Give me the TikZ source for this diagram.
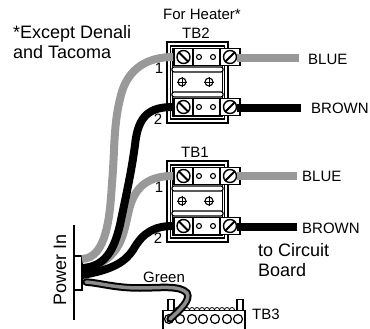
\documentclass[tikz,border=0pt]{standalone}
\usepackage{fontspec}
\setmainfont{Liberation Sans}
\tikzset{
	lbl/.style={inner sep=0pt, font=\fontsize{15}{17}\selectfont},
	biglbl/.style={inner sep=0pt, font=\fontsize{18}{20}\selectfont, align=left},
	frame/.style={draw, line width=1.2pt, inner sep=0pt},
	bar/.style={draw, line width=1.2pt, fill=white, rounded corners=2pt, minimum width=51pt, minimum height=5pt, inner sep=0pt},
	strip/.style={draw, line width=1.8pt, fill=white, minimum width=66pt, minimum height=17pt, inner sep=0pt},
	screw/.style={circle, draw, line width=1.4pt, fill=white, minimum size=13pt, inner sep=0pt},
	hole/.style={circle, draw, line width=1.1pt, fill=white, minimum size=5pt, inner sep=0pt},
	wire/.style={line width=8pt},
	graywire/.style={line width=8pt, draw=black!40},
}
\begin{document}
\begin{tikzpicture}[x=1pt,y=-1pt]
	\useasboundingbox (0,0) rectangle (370,329);

	% blocks
	\foreach \dy/\tb in {0/TB2,119/TB1} {
		\node[frame, minimum width=61pt, minimum height=81pt] (\tb) at (197.5,82.5+\dy) {};
		\node[frame, minimum width=54pt, minimum height=73pt] (\tb in) at (197.5,82.5+\dy) {};
		\node[frame, minimum width=50pt, minimum height=67pt] (\tb inn) at (197.5,82.5+\dy) {};
		\node[bar] (\tb a) at (197.5,69.5+\dy) {};
		\node[bar] (\tb b) at (197.5,94.5+\dy) {};
		\foreach \y/\s in {57/u,107/d} {
			\node[strip] (\tb\s) at (207,\y+\dy) {};
			\draw[line width=1.2pt] (193,\y+\dy-8) -- (193,\y+\dy+8) (220,\y+\dy-8) -- (220,\y+\dy+8);
			\node[screw] (\tb\s l) at (183.5,\y+\dy) {};
			\node[screw] (\tb\s r) at (230,\y+\dy) {};
			\draw[line width=1.8pt] (\tb\s l.north west) -- (\tb\s l.south east);
			\draw[line width=1.8pt] (\tb\s r.south west) -- (\tb\s r.north east);
			\node[hole] at (199,\y+\dy) {};
			\node[hole] at (213,\y+\dy) {};
		}
		\foreach \x in {182,209} {
			\node[circle, draw, line width=1.1pt, minimum size=8pt, inner sep=0pt] (\tb c\x) at (\x,82+\dy) {};
			\draw[line width=.8pt] (\tb c\x.west) -- (\tb c\x.east) (\tb c\x.north) -- (\tb c\x.south);
		}
	}

	% connector
	\coordinate (top) at (74,225);
	\coordinate (bot) at (74,320);
	\coordinate (gray1) at (82,259);
	\coordinate (gray2) at (85,270);
	\coordinate (blk1) at (82,268);
	\coordinate (blk2) at (82,275);
	\coordinate (grn) at (86,282);
	\coordinate (bluea) at (299,58);
	\coordinate (browna) at (301,108);
	\coordinate (blueb) at (297,176);
	\coordinate (brownb) at (297,227);
	\node[draw, line width=1.2pt, fill=white, minimum width=8pt, minimum height=34pt, inner sep=0pt] (plug) at (78,273) {};
	\draw[line width=1.4pt] (top) -- (bot);

	% wires
	\draw[graywire] (TB2ur.east |- bluea) -- (bluea);
	\draw[wire] (TB2dr.east |- browna) -- (browna);
	\draw[graywire] (TB1ur.east |- blueb) -- (blueb);
	\draw[wire] (TB1dr.east |- brownb) -- (brownb);
	\draw[graywire] (TB1u.west) .. controls (150,176) and (135,185) .. (129,210) .. controls (123,235) and (122,258) .. (gray2);
	\draw[graywire] (TB2u.west) .. controls (148,57) and (128,68) .. (121,95) .. controls (113,125) and (115,150) .. (112,183) .. controls (110,215) and (107,258) .. (gray1);
	\draw[wire] (TB2d.west) .. controls (150,107) and (138,115) .. (135,145) .. controls (131,175) and (125,200) .. (120,225) .. controls (114,250) and (105,267) .. (blk1);
	\draw[wire] (TB1d.west) .. controls (155,226) and (143,232) .. (133,250) .. controls (125,262) and (112,270) .. (blk2);

	% TB3
	\node[draw, line width=1.2pt, minimum width=6pt, minimum height=11pt, inner sep=0pt] (posta) at (171,305) {};
	\node[draw, line width=1.2pt, minimum width=6pt, minimum height=11pt, inner sep=0pt] (postb) at (240,305) {};
	\foreach \x in {177,182,...,235} {
		\node[circle, draw, line width=.8pt, minimum size=5pt, inner sep=0pt] at (\x,310) {};
	}
	\node[draw, line width=1.4pt, fill=white, minimum width=82pt, minimum height=19pt, inner sep=0pt] (TB3) at (204,320) {};
	\foreach \x in {169,180,192,203,215,227,238} {
		\node[hole, minimum size=9pt, line width=1.2pt] at (\x,319) {};
	}

	% green wire
	\coordinate (g1) at (140,288);
	\coordinate (g2) at (187,293);
	\coordinate (g3) at (170,319);
	\draw[line width=7.5pt, line cap=round] (grn) .. controls (100,283) and (115,288) .. (g1) .. controls (160,288) and (180,285) .. (g2) .. controls (191,300) and (180,310) .. (g3);
	\draw[line width=3.5pt, black!45, line cap=round] (grn) .. controls (100,283) and (115,288) .. (g1) .. controls (160,288) and (180,285) .. (g2) .. controls (191,300) and (180,310) .. (g3);

	% labels
	\node[biglbl, anchor=north west] (note) at (13,25) {*Except Denali\\and Tacoma};
	\node[lbl] (heater) at (202,14) {For Heater*};
	\node[lbl] (tbtwo) at (196,33) {TB2};
	\node[lbl] (tbone) at (195,152) {TB1};
	\node[lbl, anchor=west] (bluetwo) at (308,59) {BLUE};
	\node[lbl, anchor=west] (browntwo) at (311,108) {BROWN};
	\node[lbl, anchor=west] (blueone) at (302,176) {BLUE};
	\node[lbl, anchor=west] (brownone) at (302,228) {BROWN};
	\node[biglbl, anchor=north west] (circuit) at (258,243) {to Circuit\\Board};
	\node[lbl] (green) at (164,277) {Green};
	\node[lbl, anchor=west] (tbthree) at (252,314) {TB3};
	\node[biglbl, rotate=90] (power) at (60,270) {Power In};
	\node[lbl] at (159,68) {1};
	\node[lbl] at (158,119) {2};
	\node[lbl] at (159,187) {1};
	\node[lbl] at (158,238) {2};
\end{tikzpicture}
\end{document}
